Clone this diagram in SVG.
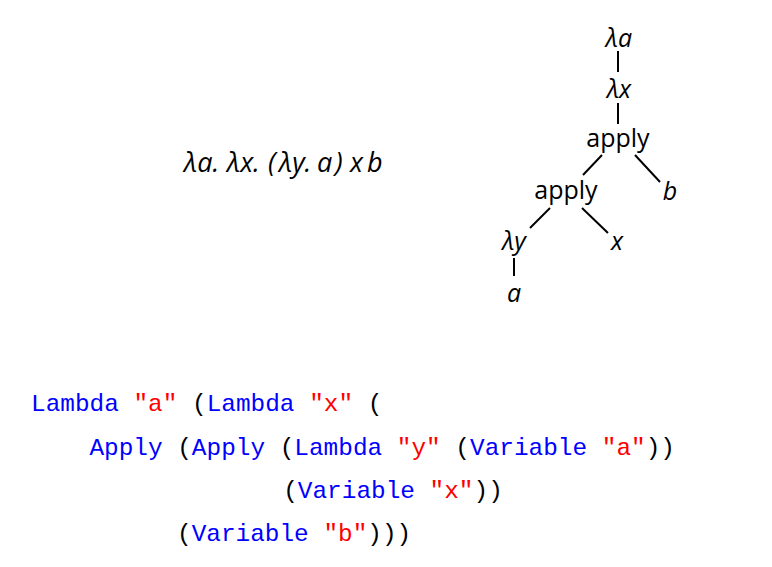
<svg xmlns="http://www.w3.org/2000/svg" width="772" height="567" viewBox="0 0 772 567">
<style>
.t{font-family:"Open Sans","DejaVu Sans",sans-serif;font-size:25px;fill:#000;text-anchor:middle}
.i{font-style:italic}
.f{font-family:"Open Sans","DejaVu Sans",sans-serif;font-size:27px;font-style:italic;fill:#000}
.e{stroke:#000;stroke-width:2;fill:none}
.c{font-family:"Liberation Mono","DejaVu Sans Mono",monospace;font-size:24.4px;fill:#000;white-space:pre}
.k{fill:#0000ff}
.s{fill:#ff0000}
</style>
<rect width="772" height="567" fill="#fff"/>
<g id="formula">
<text class="f" y="172"><tspan x="184">λa.</tspan><tspan x="227">λx.</tspan><tspan x="268">(</tspan><tspan x="279">λy.</tspan><tspan x="317">a</tspan><tspan x="335">)</tspan><tspan x="350">x</tspan><tspan x="367">b</tspan></text>
</g>
<g id="connectors">
<line class="e" x1="618" y1="51" x2="618" y2="72"/>
<line class="e" x1="618" y1="103" x2="618" y2="124"/>
<line class="e" x1="602" y1="155" x2="583" y2="175"/>
<line class="e" x1="635" y1="155" x2="660" y2="182"/>
<line class="e" x1="550" y1="208" x2="530" y2="228"/>
<line class="e" x1="582" y1="208" x2="608" y2="233"/>
<line class="e" x1="514" y1="258" x2="514" y2="276"/>
</g>
<g id="n-lam-a"><text class="t i" x="619" y="47">λa</text></g>
<g id="n-lam-x"><text class="t i" x="619" y="98">λx</text></g>
<g id="n-apply1"><text class="t" x="618" y="147">apply</text></g>
<g id="n-b"><text class="t i" x="670" y="200">b</text></g>
<g id="n-apply2"><text class="t" x="566" y="199">apply</text></g>
<g id="n-lam-y"><text class="t i" x="514" y="250">λy</text></g>
<g id="n-x"><text class="t i" x="617" y="250">x</text></g>
<g id="n-a"><text class="t i" x="514" y="302">a</text></g>
<g id="code">
<text class="c" x="31" y="411"><tspan class="k">Lambda</tspan> <tspan class="s">"a"</tspan> (<tspan class="k">Lambda</tspan> <tspan class="s">"x"</tspan> (</text>
<text class="c" x="89.4" y="455"><tspan class="k">Apply</tspan> (<tspan class="k">Apply</tspan> (<tspan class="k">Lambda</tspan> <tspan class="s">"y"</tspan> (<tspan class="k">Variable</tspan> <tspan class="s">"a"</tspan>))</text>
<text class="c" x="283.2" y="498">(<tspan class="k">Variable</tspan> <tspan class="s">"x"</tspan>))</text>
<text class="c" x="177" y="541">(<tspan class="k">Variable</tspan> <tspan class="s">"b"</tspan>)))</text>
</g>
</svg>
